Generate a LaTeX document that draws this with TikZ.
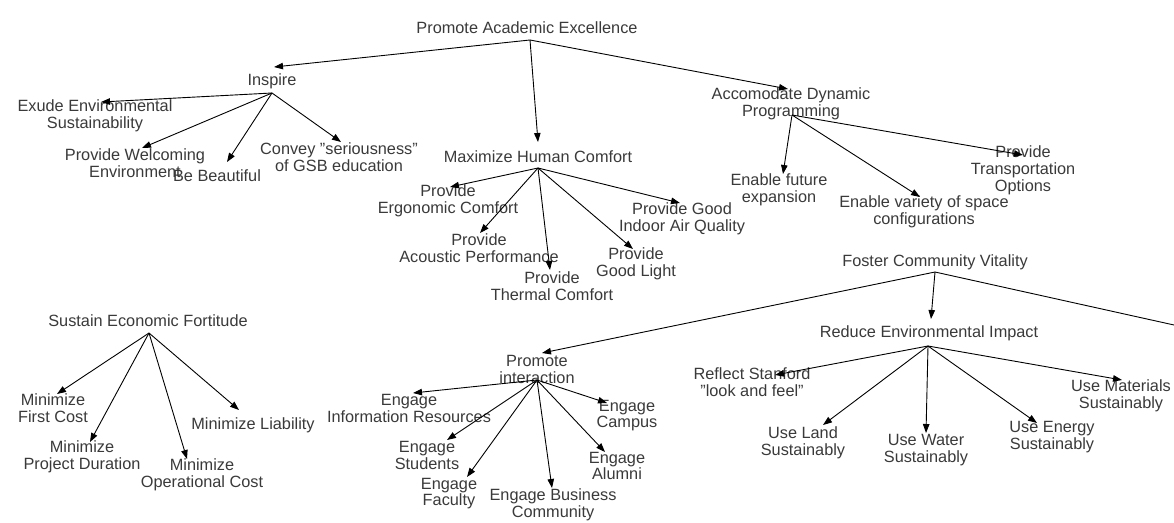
\documentclass[tikz,border=0pt]{standalone}
\usepackage{fontspec}
\setmainfont{Liberation Sans}
\usetikzlibrary{arrows.meta}
\definecolor{txt}{HTML}{3A3A3A}
\newcommand{\qd}{\symbol{34}}
\tikzset{
  lbl/.style={inner sep=0pt, align=center, text=txt, font=\fontsize{16.3}{16.8}\selectfont},
  arr/.style={draw=black, line width=0.9pt, -{Triangle[length=9pt,width=6.5pt]}},
  plain/.style={draw=black, line width=0.9pt}
}
\begin{document}
\begin{tikzpicture}[x=1pt,y=-1pt]
\useasboundingbox[fill=white] (0,0) rectangle (1174,522);
% level nodes
\node[lbl] (pae) at (527,28) {Promote Academic Excellence};
\node[lbl] (insp) at (272,81) {Inspire};
\node[lbl] (exude) at (95,116) {Exude Environmental\\Sustainability};
\node[lbl] (welc) at (135,163) {Provide Welcoming\\Environment};
\node[lbl] (beau) at (217,176) {Be Beautiful};
\node[lbl] (conv) at (339,157) {Convey \qd seriousness\qd\\of GSB education};
\node[lbl] (mhc) at (538,157) {Maximize Human Comfort};
\node[lbl] (ergo) at (448,200.5) {Provide\\Ergonomic Comfort};
\node[lbl] (acou) at (479,248.5) {Provide\\Acoustic Performance};
\node[lbl] (therm) at (552,286) {Provide\\Thermal Comfort};
\node[lbl] (light) at (636,264) {Provide\\Good Light};
\node[lbl] (air) at (682,218.5) {Provide Good\\Indoor Air Quality};
\node[lbl] (adp) at (791,104) {Accomodate Dynamic\\Programming};
\node[lbl] (future) at (779,190) {Enable future\\expansion};
\node[lbl] (variety) at (924,212) {Enable variety of space\\configurations};
\node[lbl] (transp) at (1023,170) {Provide\\Transportation\\Options};
\node[lbl] (sef) at (148,321) {Sustain Economic Fortitude};
\node[lbl] (first) at (53,408.5) {Minimize\\First Cost};
\node[lbl] (dur) at (82,457) {Minimize\\Project Duration};
\node[lbl] (oper) at (202,475) {Minimize\\Operational Cost};
\node[lbl] (liab) at (253,425) {Minimize Liability};
\node[lbl] (fcv) at (935,262) {Foster Community Vitality};
\node[lbl] (pint) at (537,369.5) {Promote\\interaction};
\node[lbl] (info) at (409,408.5) {Engage\\Information Resources};
\node[lbl] (stud) at (427,455.5) {Engage\\Students};
\node[lbl] (fac) at (449,493.5) {Engage\\Faculty};
\node[lbl] (bus) at (553,505) {Engage Business\\Community};
\node[lbl] (alum) at (617,466) {Engage\\Alumni};
\node[lbl] (camp) at (627,415.5) {Engage\\Campus};
\node[lbl] (rei) at (929,333) {Reduce Environmental Impact};
\node[lbl] (refl) at (752,382.5) {Reflect Stanford\\\qd look and feel\qd};
\node[lbl] (land) at (803,443) {Use Land\\Sustainably};
\node[lbl] (water) at (926,450) {Use Water\\Sustainably};
\node[lbl] (energy) at (1052,437) {Use Energy\\Sustainably};
\node[lbl] (mat) at (1121,396) {Use Materials\\Sustainably};
\coordinate (offedge) at (1174,325);
% Promote Academic Excellence
\draw[arr] ([shift={(3,12)}]pae.center) -- ([shift={(2,-14)}]insp.center);
\draw[arr] ([shift={(3,12)}]pae.center) -- ([shift={(0,-15)}]mhc.center);
\draw[arr] ([shift={(3,12)}]pae.center) -- ([shift={(-3,-15)}]adp.center);
% Inspire
\draw[arr] ([shift={(0,12)}]insp.center) -- ([shift={(6,-14)}]exude.center);
\draw[arr] ([shift={(0,12)}]insp.center) -- ([shift={(7,-15)}]welc.center);
\draw[arr] ([shift={(0,12)}]insp.center) -- ([shift={(10,-14)}]beau.center);
\draw[arr] ([shift={(0,12)}]insp.center) -- ([shift={(2,-15)}]conv.center);
% Maximize Human Comfort
\draw[arr] ([shift={(0,11)}]mhc.center) -- ([shift={(2,-13.5)}]ergo.center);
\draw[arr] ([shift={(0,11)}]mhc.center) -- ([shift={(1,-15.5)}]acou.center);
\draw[arr] ([shift={(0,11)}]mhc.center) -- ([shift={(-2,-16)}]therm.center);
\draw[arr] ([shift={(0,11)}]mhc.center) -- ([shift={(-3,-15)}]light.center);
\draw[arr] ([shift={(0,11)}]mhc.center) -- ([shift={(-2,-15.5)}]air.center);
% Accomodate Dynamic Programming
\draw[arr] ([shift={(1,11)}]adp.center) -- ([shift={(4,-16)}]future.center);
\draw[arr] ([shift={(1,11)}]adp.center) -- ([shift={(-4,-15)}]variety.center);
\draw[arr] ([shift={(1,11)}]adp.center) -- ([shift={(0,-15)}]transp.center);
% Sustain Economic Fortitude
\draw[arr] ([shift={(1,12)}]sef.center) -- ([shift={(4,-14.5)}]first.center);
\draw[arr] ([shift={(1,12)}]sef.center) -- ([shift={(8,-15)}]dur.center);
\draw[arr] ([shift={(1,12)}]sef.center) -- ([shift={(-15,-16)}]oper.center);
\draw[arr] ([shift={(1,12)}]sef.center) -- ([shift={(-14,-15)}]liab.center);
% Foster Community Vitality
\draw[arr] ([shift={(0,10)}]fcv.center) -- ([shift={(5,-16.5)}]pint.center);
\draw[arr] ([shift={(0,10)}]fcv.center) -- ([shift={(2,-14)}]rei.center);
\draw[plain] ([shift={(0,10)}]fcv.center) -- (offedge);
% Promote interaction
\draw[arr] ([shift={(0,10.5)}]pint.center) -- ([shift={(4,-15.5)}]info.center);
\draw[arr] ([shift={(0,10.5)}]pint.center) -- ([shift={(20,-15.5)}]stud.center);
\draw[arr] ([shift={(0,10.5)}]pint.center) -- ([shift={(18,-16.5)}]fac.center);
\draw[arr] ([shift={(0,10.5)}]pint.center) -- ([shift={(-1,-17)}]bus.center);
\draw[arr] ([shift={(0,10.5)}]pint.center) -- ([shift={(-12,-14)}]alum.center);
\draw[arr] ([shift={(0,10.5)}]pint.center) -- ([shift={(-20,-12.5)}]camp.center);
% Reduce Environmental Impact
\draw[arr] ([shift={(-1,13)}]rei.center) -- ([shift={(23,-7.5)}]refl.center);
\draw[arr] ([shift={(-1,13)}]rei.center) -- ([shift={(20,-18)}]land.center);
\draw[arr] ([shift={(-1,13)}]rei.center) -- ([shift={(0,-17)}]water.center);
\draw[arr] ([shift={(-1,13)}]rei.center) -- ([shift={(-15,-14)}]energy.center);
\draw[arr] ([shift={(-1,13)}]rei.center) -- ([shift={(1,-16)}]mat.center);
\end{tikzpicture}
\end{document}
